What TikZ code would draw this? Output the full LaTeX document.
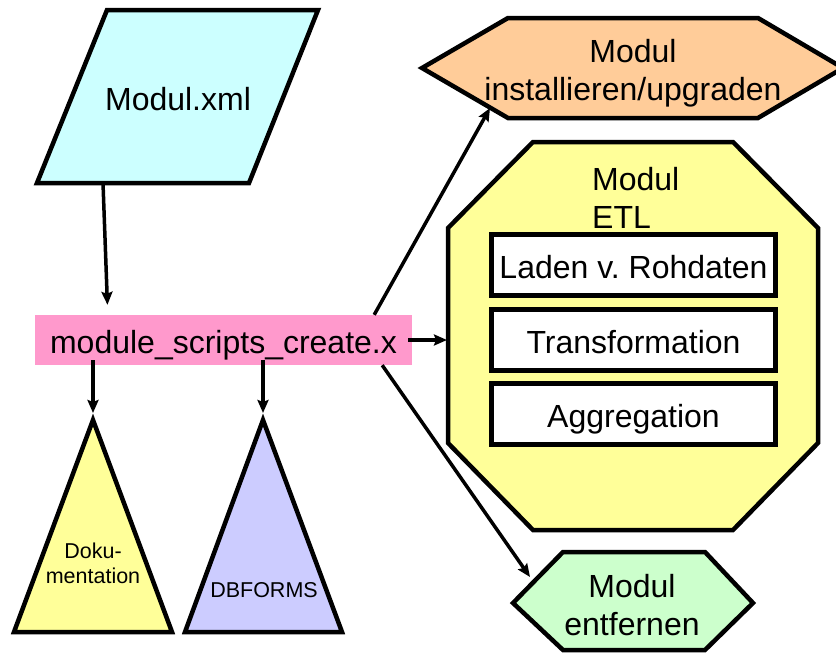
\documentclass[tikz,border=0pt]{standalone}
\usepackage{fontspec}
\setmainfont{Liberation Sans}
\usetikzlibrary{arrows.meta,calc}
\frenchspacing

\definecolor{xmlcyan}{HTML}{CCFFFF}
\definecolor{scriptpink}{HTML}{FF99CC}
\definecolor{instorange}{HTML}{FFCC99}
\definecolor{etlyellow}{HTML}{FFFF99}
\definecolor{formlilac}{HTML}{CCCCFF}
\definecolor{rmgreen}{HTML}{CCFFCC}

\begin{document}
\begin{tikzpicture}[x=1pt, y=-1pt, >={Stealth[length=13pt,width=11pt,inset=2pt]},
  outline/.style={draw, line width=4.5pt, line join=miter},
  conn/.style={->, line width=3.5pt},
  txt/.style={anchor=base, align=center, inner sep=0pt,
    font=\fontsize{32}{38}\selectfont},
  smalltxt/.style={txt, font=\fontsize{21.5}{25}\selectfont},
  stepbox/.style={outline, fill=white, minimum width=284pt,
    minimum height=61pt, text height=26pt, text depth=0pt,
    inner sep=0pt, font=\fontsize{32}{38}\selectfont}]
  \useasboundingbox (0,0) rectangle (836,653);

  % input file
  \draw[outline, fill=xmlcyan] (107,10) -- (318,10) -- (249,183) -- (37,183) -- cycle;
  \node[txt] (xml) at (178,110) {Modul.xml};
  \coordinate (xml-foot) at (103,183);

  % generator script
  \node[fill=scriptpink, minimum width=377pt, minimum height=50pt,
    text height=26pt, text depth=0pt, inner sep=0pt,
    font=\fontsize{32}{38}\selectfont] (script) at (223.5,340)
    {module\_scripts\_create.x};

  % outputs below
  \draw[outline, fill=etlyellow] (93,420) -- (172,632) -- (14,632) -- cycle;
  \coordinate (doku-top) at (93,420);
  \node[smalltxt] (doku) at (93,583) {Doku-\\mentation};
  \draw[outline, fill=formlilac] (263,420) -- (342,632) -- (185,632) -- cycle;
  \coordinate (forms-top) at (263,420);
  \node[smalltxt] (forms) at (264,597) {DBFORMS};

  % install
  \draw[outline, fill=instorange] (422,68) -- (508,18) -- (758,18) -- (843,68)
    -- (758,118) -- (508,118) -- cycle;
  \node[txt] (inst) at (633,100) {Modul\\installieren/upgraden};
  \coordinate (inst-tip) at (490,108);

  % ETL
  \draw[outline, fill=etlyellow] (533,142) -- (733,142) -- (818,228) -- (818,443)
    -- (733,530) -- (533,530) -- (448,443) -- (448,228) -- cycle;
  \node[txt, anchor=base west, align=left] (etl) at (592,228) {Modul\\ETL};
  \coordinate (etl-west) at (447,340);
  \node[stepbox] (load) at (633.5,265) {Laden v. Rohdaten};
  \node[stepbox] (transform) at (633.5,340) {Transformation};
  \node[stepbox] (aggregate) at (633.5,414) {Aggregation};

  % remove
  \draw[outline, fill=rmgreen] (513,603) -- (563,552) -- (705,552) -- (753,603)
    -- (705,650) -- (563,650) -- cycle;
  \node[txt] (rm) at (632,635) {Modul\\entfernen};
  \coordinate (rm-tip) at (530,577);

  % connectors
  \draw[conn, shorten >=10pt] (xml-foot) -- ($(script.north west)+(73,0)$);
  \draw[conn, shorten <=-5pt, shorten >=7pt] (script.south -| doku-top) -- (doku-top);
  \draw[conn, shorten <=-5pt, shorten >=7pt] (script.south -| forms-top) -- (forms-top);
  \draw[conn] ($(script.north east)+(-38,0)$) -- (inst-tip);
  \draw[conn, shorten <=-4pt] (script.east) -- (etl-west);
  \draw[conn] ($(script.south east)+(-30,0)$) -- (rm-tip);
\end{tikzpicture}
\end{document}
